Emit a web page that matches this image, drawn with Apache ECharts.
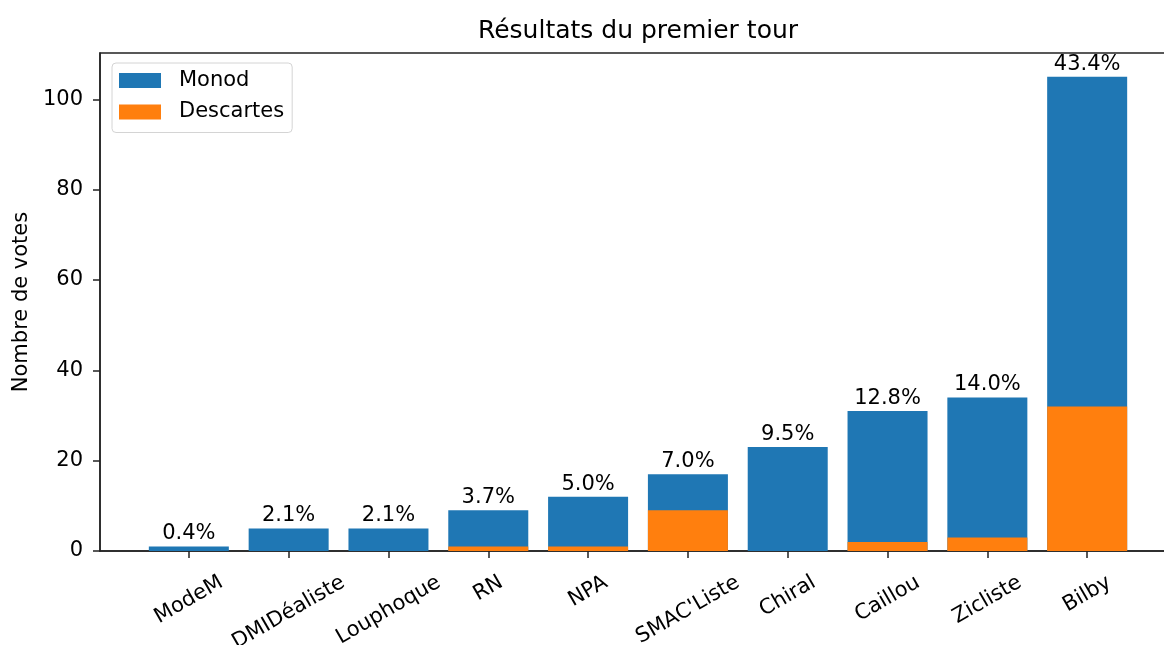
<!DOCTYPE html>
<html>
<head>
<meta charset="utf-8">
<script src="https://cdn.jsdelivr.net/npm/echarts@6/dist/echarts.min.js"></script>
<style>
html, body { margin: 0; padding: 0; background: #fff; }
#main { width: 1164px; height: 645px; }
</style>
</head>
<body>
<div id="main"></div>
<script>
// données du premier tour
const listes = ['ModeM', 'DMIDéaliste', 'Louphoque', 'RN', 'NPA', "SMAC'Liste", 'Chiral', 'Caillou', 'Zicliste', 'Bilby'];
const votesMonod = [1, 5, 5, 8, 11, 8, 23, 29, 31, 73];
const votesDescartes = [0, 0, 0, 1, 1, 9, 0, 2, 3, 32];
const yTicks = [0, 20, 40, 60, 80, 100];

const FONT = 'DejaVu Sans';
// hauteur totale de chaque barre (Monod posé sur Descartes)
const votesTotal = votesMonod.map((v, i) => v + votesDescartes[i]);
const total = votesTotal.reduce((s, v) => s + v, 0);
// positions 1..n sur l'axe x
const positions = listes.map((_, i) => i + 1);
const X_MIN = 0.11, X_MAX = 10.89;

// étiquettes inclinées à 30° centrées sous le tick (comme matplotlib)
const ctx = document.createElement('canvas').getContext('2d');
ctx.font = '21px "' + FONT + '"';
const rich = {};
listes.forEach((nom, i) => {
  const d = 0.25 * ctx.measureText(nom).width;
  rich['l' + (i + 1)] = {
    fontSize: 21,
    fontFamily: FONT,
    color: '#000',
    lineHeight: 24,
    padding: [1.732 * d, d, 0, 0]
  };
});

let myChart = echarts.init(document.getElementById('main'));
const option = {
  animation: false,
  backgroundColor: '#fff',
  title: {
    text: 'Résultats du premier tour',
    left: 638,
    top: 16,
    textAlign: 'center',
    padding: 0,
    textStyle: { fontFamily: FONT, fontSize: 25, fontWeight: 'normal', color: '#000', lineHeight: 30 }
  },
  legend: {
    data: ['Monod', 'Descartes'],
    orient: 'vertical',
    left: 112,
    top: 63,
    icon: 'rect',
    itemWidth: 42,
    itemHeight: 15,
    itemGap: 10.5,
    padding: [7, 8, 10, 7],
    borderColor: '#d4d4d4',
    borderWidth: 1,
    borderRadius: 4,
    backgroundColor: 'rgba(255,255,255,0.8)',
    textStyle: { fontFamily: FONT, fontSize: 21, color: '#000', lineHeight: 21, padding: [0, 0, 0, 13] }
  },
  grid: {
    left: 100,
    right: -12,
    top: 53,
    bottom: 94,
    show: true,
    borderColor: '#222',
    borderWidth: 1.5,
    containLabel: false,
    outerBoundsMode: 'none'
  },
  xAxis: {
    type: 'value',
    min: X_MIN,
    max: X_MAX,
    splitLine: { show: false },
    axisLine: { show: true, onZero: false, lineStyle: { color: '#222', width: 1.5 } },
    axisTick: { show: true, length: 7, customValues: positions, lineStyle: { color: '#222', width: 1.5 } },
    axisLabel: {
      // valeur vide en tête pour que ECharts ne masque pas « ModeM »
      customValues: [X_MIN].concat(positions),
      rotate: 30,
      align: 'center',
      verticalAlign: 'middle',
      margin: 30,
      hideOverlap: false,
      formatter: v => listes[v - 1] ? '{l' + v + '|' + listes[v - 1] + '}' : '',
      rich: rich
    }
  },
  yAxis: {
    type: 'value',
    min: 0,
    max: 110.25,
    name: 'Nombre de votes',
    nameLocation: 'middle',
    nameGap: 66,
    nameTextStyle: { fontFamily: FONT, fontSize: 21, color: '#000' },
    splitLine: { show: false },
    axisLine: { show: true, onZero: false, lineStyle: { color: '#222', width: 1.5 } },
    axisTick: { show: true, length: 7, customValues: yTicks, lineStyle: { color: '#222', width: 1.5 } },
    axisLabel: { customValues: yTicks, margin: 17, fontFamily: FONT, fontSize: 21, color: '#000' }
  },
  series: [
    {
      name: 'Monod',
      type: 'bar',
      barWidth: 80,
      itemStyle: { color: '#1f77b4' },
      emphasis: { disabled: true },
      label: {
        show: true,
        position: 'top',
        distance: 2,
        fontFamily: FONT,
        fontSize: 21,
        lineHeight: 21,
        color: '#000',
        formatter: p => (votesTotal[p.dataIndex] / total * 100).toFixed(1) + '%'
      },
      data: votesTotal.map((v, i) => [positions[i], v])
    },
    {
      name: 'Descartes',
      type: 'bar',
      barWidth: 80,
      barGap: '-100%',
      itemStyle: { color: '#ff7f0e' },
      emphasis: { disabled: true },
      data: votesDescartes.map((v, i) => [positions[i], v])
    }
  ]
};
myChart.setOption(option);
</script>
</body>
</html>
